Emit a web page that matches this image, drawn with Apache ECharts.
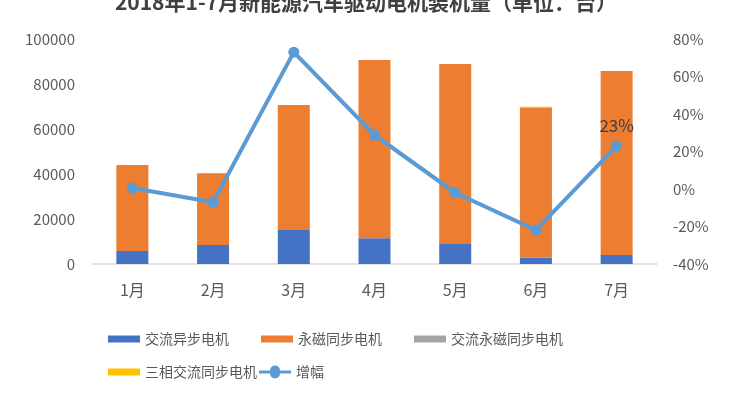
<!DOCTYPE html>
<html>
<head>
<meta charset="utf-8">
<script src="https://cdn.jsdelivr.net/npm/echarts@6/dist/echarts.min.js"></script>
<style>
  html, body { margin: 0; padding: 0; background: #fff; }
  #chart { width: 732px; height: 397px; }
</style>
</head>
<body>
<div id="chart"></div>
<script>
const months = ["1月", "2月", "3月", "4月", "5月", "6月", "7月"];
const acAsync = [5800, 8400, 15100, 11400, 9200, 2800, 4000];
const pmSync = [38200, 31900, 55600, 79300, 79700, 66500, 81800];
const acPmSync = [0, 0, 0, 0, 0, 0, 0];
const threePhase = [0, 0, 0, 0, 0, 600, 0];
const growth = [0.5, -7.1, 73, 28.8, -2, -21.9, 23];
const leftTicks = [0, 20000, 40000, 60000, 80000, 100000];
const rightTicks = [-40, -20, 0, 20, 40, 60, 80];

const font = "'Microsoft YaHei', 'Noto Sans CJK SC', sans-serif";
const txt = "#595959";

const chart = echarts.init(document.getElementById("chart"));

function legendAt(name, left, top, icon) {
  return {
    data: [name],
    left: left,
    top: top,
    itemWidth: 32,
    itemHeight: icon ? 14 : 7,
    itemGap: 4,
    icon: icon || "rect",
    textStyle: { color: txt, fontSize: 14, fontFamily: font },
  };
}

chart.setOption({
  animation: false,
  title: {
    text: "2018年1-7月新能源汽车驱动电机装机量（单位：台）",
    left: "center",
    top: -13,
    textStyle: { color: "#404040", fontSize: 21, fontWeight: "bold", fontFamily: font },
  },
  legend: [
    legendAt("交流异步电机", 103, 327),
    legendAt("永磁同步电机", 256, 327),
    legendAt("交流永磁同步电机", 409, 327),
    legendAt("三相交流同步电机", 103, 360),
    legendAt("增幅", 254, 360, "path://M0,6 L11,6 A5,5 0 1,1 21,6 L32,6 L32,9 L21,9 A5,5 0 1,1 11,9 L0,9 Z"),
  ],
  grid: { left: 92, right: 75, top: 39, bottom: 133 },
  xAxis: {
    type: "category",
    data: months,
    axisTick: { show: false },
    axisLine: { lineStyle: { color: "#d9d9d9", width: 1.5 } },
    axisLabel: { color: txt, fontSize: 16, fontFamily: font, margin: 18 },
  },
  yAxis: [
    {
      type: "value",
      min: leftTicks[0],
      max: leftTicks[leftTicks.length - 1],
      interval: 20000,
      splitLine: { show: false },
      axisLabel: { color: txt, fontSize: 15, fontFamily: font, margin: 17, formatter: (v) => String(v) },
    },
    {
      type: "value",
      min: rightTicks[0],
      max: rightTicks[rightTicks.length - 1],
      interval: 20,
      splitLine: { show: false },
      axisLabel: { color: txt, fontSize: 15, fontFamily: font, margin: 16, formatter: "{value}%" },
    },
  ],
  series: [
    { name: "交流异步电机", type: "bar", stack: "a", data: acAsync, barWidth: 32, itemStyle: { color: "#4472C4" } },
    { name: "永磁同步电机", type: "bar", stack: "a", data: pmSync, itemStyle: { color: "#ED7D31" } },
    { name: "交流永磁同步电机", type: "bar", stack: "a", data: acPmSync, itemStyle: { color: "#A5A5A5" } },
    { name: "三相交流同步电机", type: "bar", stack: "a", data: threePhase, itemStyle: { color: "#FFC000" } },
    {
      name: "增幅",
      type: "line",
      yAxisIndex: 1,
      data: growth,
      symbol: "circle",
      symbolSize: 11,
      lineStyle: { color: "#5B9BD5", width: 4 },
      itemStyle: { color: "#5B9BD5" },
      label: {
        show: true,
        position: "top",
        distance: 6,
        color: "#404040",
        fontSize: 17,
        fontFamily: font,
        formatter: (p) => (p.dataIndex === 6 ? Math.round(p.value) + "%" : ""),
      },
    },
  ],
});
</script>
</body>
</html>
